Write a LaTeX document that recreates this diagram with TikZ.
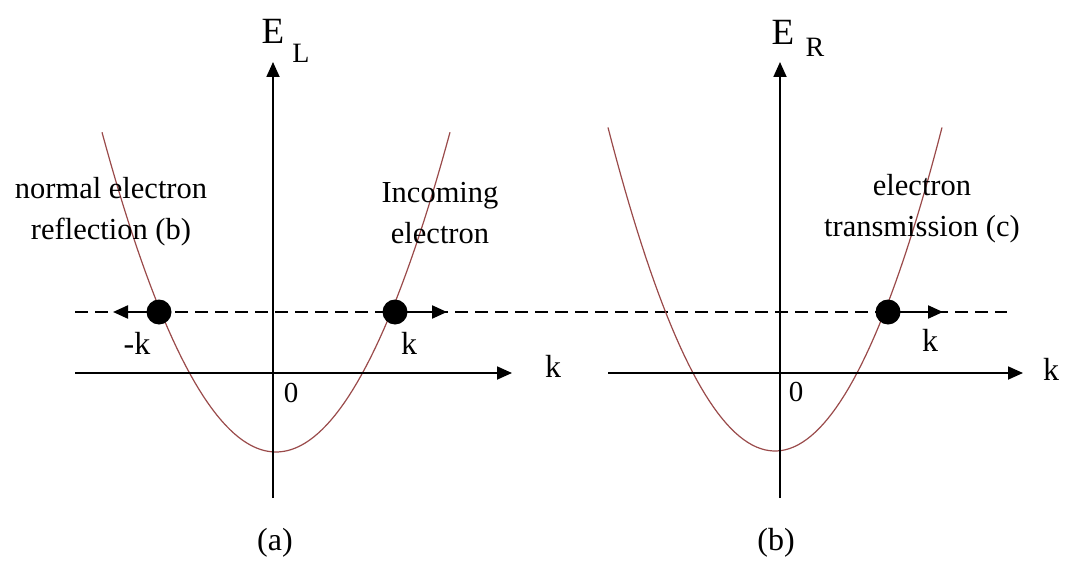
\documentclass[tikz,border=0pt]{standalone}
\usepackage{fontspec}
\setmainfont{Liberation Serif}
\usetikzlibrary{arrows.meta}
\begin{document}
\begin{tikzpicture}[x=1pt,y=-1pt,
  axis/.style={line width=1.8pt,-{Triangle[length=15pt,width=13pt]}},
  band/.style={line width=1.6pt,dash pattern=on 13pt off 7pt},
  curve/.style={line width=1.2pt,color=parab},
  electron/.style={circle,fill=black,inner sep=0pt,minimum size=25pt},
  motion/.style={line width=2.2pt,-{Triangle[length=15pt,width=13pt]}},
  lbl/.style={font=\fontsize{30.5}{41}\selectfont,align=center,inner sep=0pt},
  small/.style={font=\fontsize{32}{34}\selectfont,inner sep=0pt},
  zero/.style={font=\fontsize{29}{30}\selectfont,inner sep=0pt},
  sub/.style={font=\fontsize{28}{30}\selectfont,inner sep=0pt},
  big/.style={font=\fontsize{37}{40}\selectfont,inner sep=0pt}]
\definecolor{parab}{HTML}{9A4A4A}
\useasboundingbox (0,0) rectangle (1065,567);
\fill[white] (0,0) rectangle (1065,567);
% coordinates
\coordinate (dashL) at (75,312);
\coordinate (dashR) at (1007,312);
\coordinate (aLx0) at (75,373);
\coordinate (aLx1) at (512,373);
\coordinate (aLy0) at (273,498);
\coordinate (aLy1) at (273,62);
\coordinate (bLx0) at (608,373);
\coordinate (bLx1) at (1023,373);
\coordinate (bLy0) at (780,498);
\coordinate (bLy1) at (780,62);
\coordinate (tipL) at (113,312);
\coordinate (tipM) at (447,312);
\coordinate (tipR) at (943,312);
% dashed energy line
\draw[band] (dashL) -- (dashR);
% parabolas
\draw[curve] plot[domain=-174:174,samples=80] ({276+\x},{452-1.056*(\x/10)*(\x/10)});
\draw[curve] plot[domain=-167:167,samples=80] ({775+\x},{451-1.16*(\x/10)*(\x/10)});
% axes
\draw[axis] (aLx0) -- (aLx1);
\draw[axis] (aLy0) -- (aLy1);
\draw[axis] (bLx0) -- (bLx1);
\draw[axis] (bLy0) -- (bLy1);
% electrons
\node[electron] (eL) at (159,312) {};
\node[electron] (eM) at (395,312) {};
\node[electron] (eR) at (888,312) {};
\draw[motion] (eL.center) -- (tipL);
\draw[motion] (eM.center) -- (tipM);
\draw[motion] (eR.center) -- (tipR);
% labels
\node[big] (EL) at (273,31) {E};
\node[sub] (ELs) at (301,53) {L};
\node[big] (ER) at (783,32) {E};
\node[sub] (ERs) at (815,47) {R};
\node[small] (kL) at (553,366) {k};
\node[small] (kR) at (1051,369) {k};
\node[small] (mk) at (137,343) {-k};
\node[small] (k1) at (409,343) {k};
\node[small] (k2) at (930,340) {k};
\node[zero] (z1) at (291,393) {0};
\node[zero] (z2) at (796,392) {0};
\node[small] (pa) at (275,543) {(a)};
\node[small] (pb) at (776,543) {(b)};
\node[lbl] (refl) at (111,212) {normal electron\\reflection (b)};
\node[lbl] (inc) at (440,213) {Incoming\\electron};
\node[lbl] (trans) at (922,209) {electron\\transmission (c)};
\end{tikzpicture}
\end{document}
